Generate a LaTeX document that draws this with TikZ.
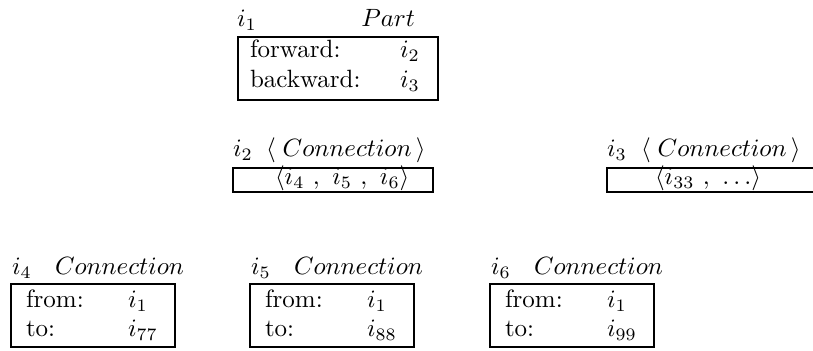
\documentclass[tikz,border=0pt]{standalone}
\begin{document}
\begin{tikzpicture}[x=0.4pt,y=-0.4pt,
  objbox/.style={draw, line width=0.9pt, inner sep=0pt, outer sep=0pt, anchor=north west},
  txt/.style={anchor=base west, inner sep=0pt, outer sep=0pt}]
\useasboundingbox (0,0) rectangle (813,351);
\clip (0,0) rectangle (813,351);

% object i1 : Part
\node[objbox, minimum width=80pt, minimum height=25.2pt] (part) at (238,37) {};
\node[txt] (partid) at (237,27) {$i_1$};
\node[txt, anchor=base east] (parttype) at (415,27) {$Part$};
\node[txt] (partfk) at (250,58) {forward:};
\node[txt] (partfv) at (400,58) {$i_2$};
\node[txt] (partbk) at (250,88) {backward:};
\node[txt] (partbv) at (400,88) {$i_3$};

% object i2 : set of connections
\node[objbox, minimum width=80pt, minimum height=9.6pt] (setA) at (233,168) {};
\node[txt] (setAid) at (233,157) {$i_2$};
\node[txt] (setAtype) at (266,157) {$\langle\;Connection\,\rangle$};
\node[txt] (setAval) at (275,185) {$\langle i_4\ ,\ i_5\ ,\ i_6\rangle$};

% object i3 : set of connections (runs on past the right margin)
\node[objbox, minimum width=90pt, minimum height=9.6pt] (setB) at (607,168) {};
\node[txt] (setBid) at (607,157) {$i_3$};
\node[txt] (setBtype) at (641,157) {$\langle\;Connection\,\rangle$};
\node[txt] (setBval) at (655,185) {$\langle i_{33}\ ,\ \ldots\rangle$};

% objects i4, i5, i6 : Connection
\foreach \n/\dx/\v in {4/0/77, 5/239/88, 6/479/99}{
  \node[objbox, minimum width=65.6pt, minimum height=25.2pt] (conn\n) at (11+\dx,284) {};
  \node[txt] (conn\n id) at (12+\dx,275) {$i_{\n}$};
  \node[txt] (conn\n type) at (55+\dx,275) {$Connection$};
  \node[txt] (conn\n fk) at (26+\dx,308) {from:};
  \node[txt] (conn\n fv) at (128+\dx,308) {$i_1$};
  \node[txt] (conn\n tk) at (26+\dx,337) {to:};
  \node[txt] (conn\n tv) at (128+\dx,337) {$i_{\v}$};
}
\end{tikzpicture}
\end{document}
